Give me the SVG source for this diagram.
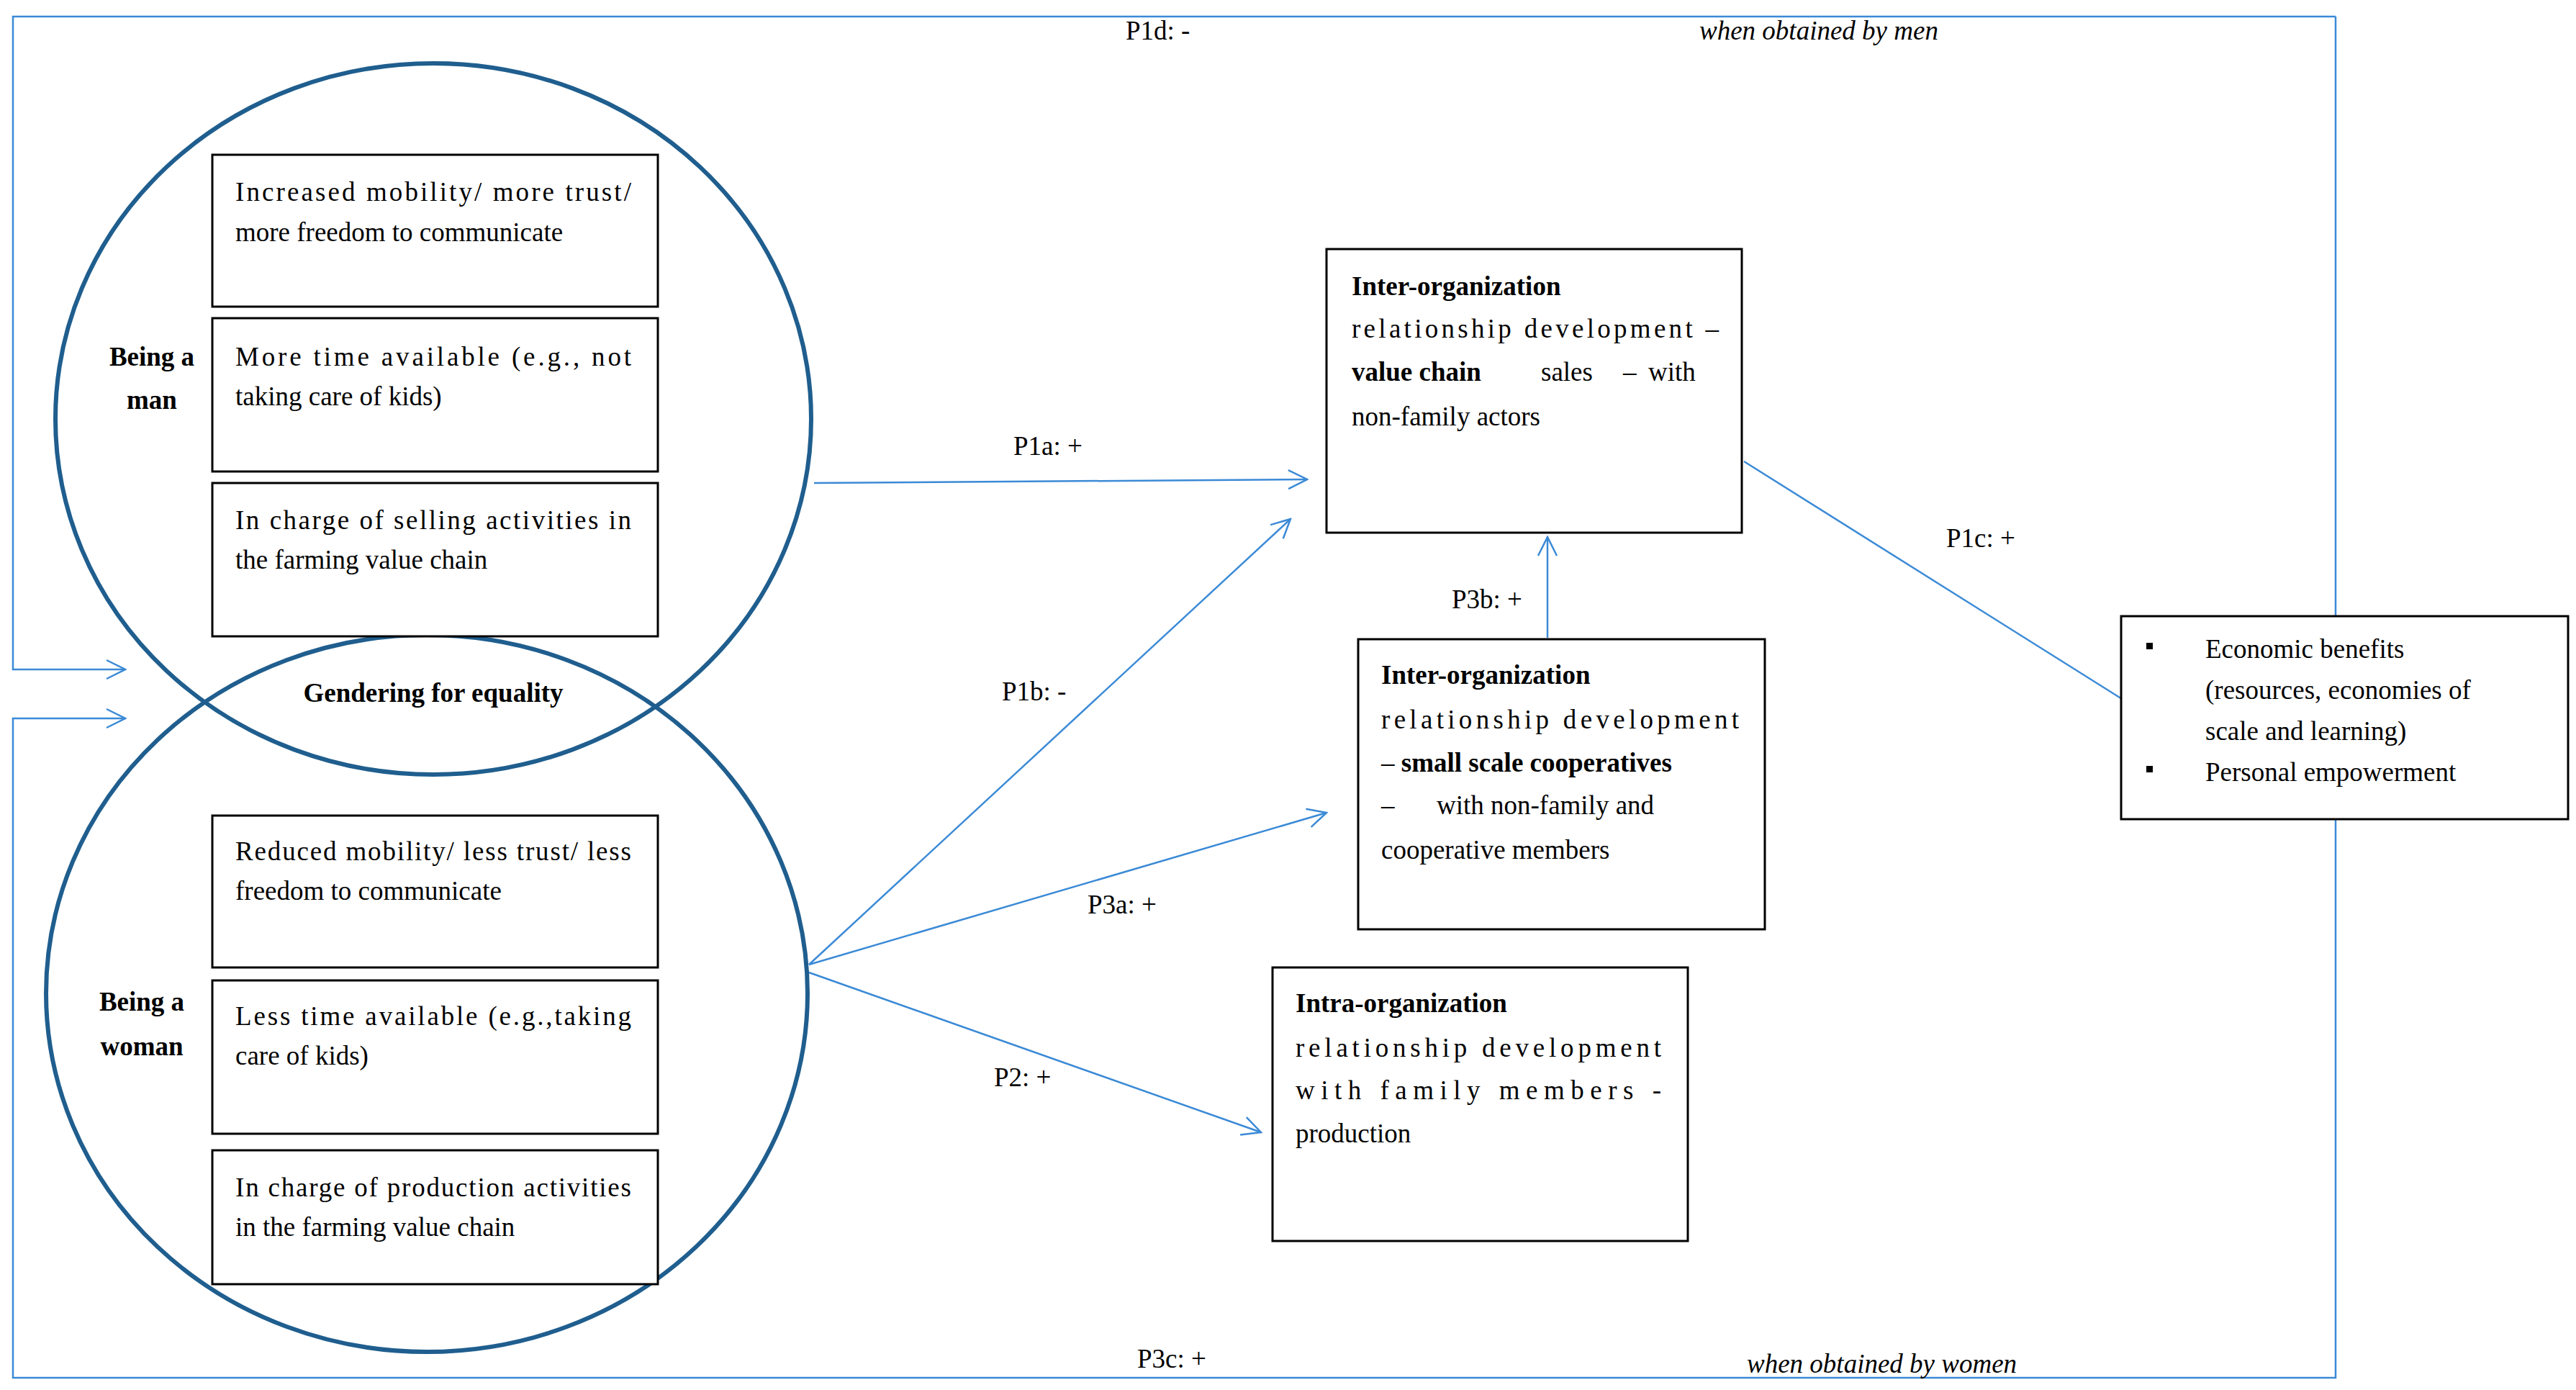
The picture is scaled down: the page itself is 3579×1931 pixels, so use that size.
<svg xmlns="http://www.w3.org/2000/svg" width="3579" height="1931" viewBox="0 0 3579 1931">
<style>
text{font-family:"Liberation Serif","DejaVu Serif",serif;font-size:37px;fill:#000}
.b{font-weight:bold}
.i{font-style:italic}
.c{text-anchor:middle}
.box{fill:#fff;stroke:#000;stroke-width:3}
.circ{fill:none;stroke:#1f5e8e;stroke-width:6}
.ln{fill:none;stroke:#3b8ad6;stroke-width:2.5}
</style>
<defs>
<marker id="a" markerWidth="30" markerHeight="30" refX="28" refY="15" orient="auto" markerUnits="userSpaceOnUse">
<path d="M2,2 L28,15 L2,28" fill="none" stroke="#3b8ad6" stroke-width="2.5"/>
</marker>
</defs>
<rect width="3579" height="1931" fill="#fff"/>
<g id="connectors">
<path class="ln" d="M3245,23 H18 V930 H174" marker-end="url(#a)"/>
<path class="ln" d="M3245,23 V1914 H18 V998 H174" marker-end="url(#a)"/>
<line class="ln" x1="1131" y1="671" x2="1816" y2="666" marker-end="url(#a)"/>
<line class="ln" x1="1124" y1="1340" x2="1793" y2="721" marker-end="url(#a)"/>
<line class="ln" x1="1124" y1="1340" x2="1843" y2="1129" marker-end="url(#a)"/>
<line class="ln" x1="1124" y1="1351" x2="1752" y2="1573" marker-end="url(#a)"/>
<line class="ln" x1="2150" y1="886" x2="2150" y2="746" marker-end="url(#a)"/>
<line class="ln" x1="2423" y1="641" x2="2988" y2="996" marker-end="url(#a)"/>
<text x="1564" y="55">P1d: -</text>
<text x="2361" y="55" class="i">when obtained by men</text>
<text x="1580" y="1900">P3c: +</text>
<text x="2427" y="1907" class="i">when obtained by women</text>
<text x="1408" y="632">P1a: +</text>
<text x="1392" y="973">P1b: -</text>
<text x="1511" y="1269">P3a: +</text>
<text x="1381" y="1509">P2: +</text>
<text x="2017" y="845">P3b: +</text>
<text x="2704" y="760">P1c: +</text>
</g>
<g id="man">
<ellipse class="circ" cx="602" cy="582" rx="525" ry="494"/>
<text x="211" y="508" class="b c">Being a</text>
<text x="211" y="568" class="b c">man</text>
</g>
<g id="woman">
<ellipse class="circ" cx="593" cy="1380" rx="529" ry="498"/>
<text x="197" y="1404" class="b c">Being a</text>
<text x="197" y="1466" class="b c">woman</text>
</g>
<text x="602" y="975" class="b c">Gendering for equality</text>
<g id="m1"><rect class="box" x="295" y="215" width="619" height="211"/>
<text x="327" y="279" textLength="550" lengthAdjust="spacing">Increased mobility/ more trust/</text>
<text x="327" y="335">more freedom to communicate</text></g>
<g id="m2"><rect class="box" x="295" y="442" width="619" height="213"/>
<text x="327" y="508" textLength="550" lengthAdjust="spacing">More time available (e.g., not</text>
<text x="327" y="563">taking care of kids)</text></g>
<g id="m3"><rect class="box" x="295" y="671" width="619" height="213"/>
<text x="327" y="735" textLength="550" lengthAdjust="spacing">In charge of selling activities in</text>
<text x="327" y="790">the farming value chain</text></g>
<g id="w1"><rect class="box" x="295" y="1133" width="619" height="211"/>
<text x="327" y="1195" textLength="550" lengthAdjust="spacing">Reduced mobility/ less trust/ less</text>
<text x="327" y="1250">freedom to communicate</text></g>
<g id="w2"><rect class="box" x="295" y="1362" width="619" height="213"/>
<text x="327" y="1424" textLength="550" lengthAdjust="spacing">Less time available (e.g.,taking</text>
<text x="327" y="1479">care of kids)</text></g>
<g id="w3"><rect class="box" x="295" y="1598" width="619" height="186"/>
<text x="327" y="1662" textLength="550" lengthAdjust="spacing">In charge of production activities</text>
<text x="327" y="1717">in the farming value chain</text></g>
<g id="inter1"><rect class="box" x="1843" y="346" width="577" height="394"/>
<text x="1878" y="410" class="b">Inter-organization</text>
<text x="1878" y="469" textLength="510" lengthAdjust="spacing">relationship development –</text>
<text x="1878" y="529"><tspan class="b">value chain</tspan><tspan x="2141">sales</tspan><tspan x="2255">–</tspan><tspan x="2290">with</tspan></text>
<text x="1878" y="591">non-family actors</text></g>
<g id="inter2"><rect class="box" x="1887" y="888" width="565" height="403"/>
<text x="1919" y="950" class="b">Inter-organization</text>
<text x="1919" y="1012" textLength="497" lengthAdjust="spacing">relationship development</text>
<text x="1919" y="1072">– <tspan class="b">small scale cooperatives</tspan></text>
<text x="1919" y="1131">–<tspan x="1996">with non-family and</tspan></text>
<text x="1919" y="1193">cooperative members</text></g>
<g id="intra"><rect class="box" x="1768" y="1344" width="577" height="380"/>
<text x="1800" y="1406" class="b">Intra-organization</text>
<text x="1800" y="1468" textLength="508" lengthAdjust="spacing">relationship development</text>
<text x="1800" y="1527" textLength="508" lengthAdjust="spacing">with family members -</text>
<text x="1800" y="1587">production</text></g>
<g id="benefits"><rect class="box" x="2947" y="856" width="621" height="282"/>
<rect x="2982" y="893" width="9" height="9" fill="#000"/>
<rect x="2982" y="1064" width="9" height="9" fill="#000"/>
<text x="3064" y="914">Economic benefits</text>
<text x="3064" y="971">(resources, economies of</text>
<text x="3064" y="1028">scale and learning)</text>
<text x="3064" y="1085">Personal empowerment</text></g>
</svg>
